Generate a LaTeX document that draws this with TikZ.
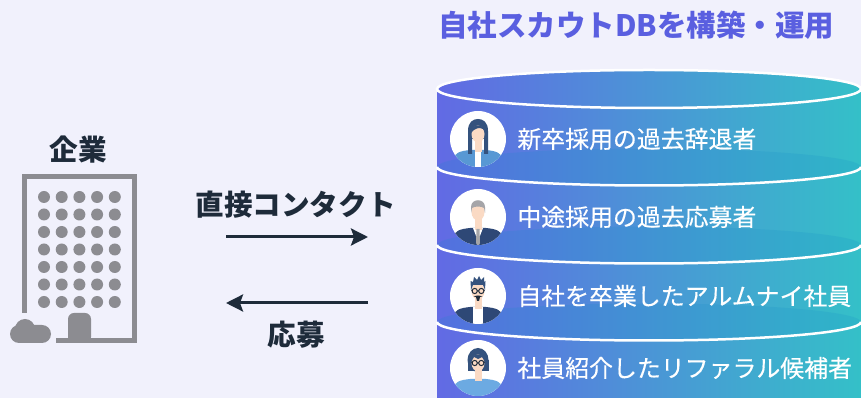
\documentclass[tikz,border=0pt]{standalone}
\usepackage{fontspec}
\setmainfont{Noto Sans CJK JP}
\newfontfamily\dbfont{Noto Sans CJK JP}[FakeBold=0.35]
\usetikzlibrary{positioning}
\usetikzlibrary{arrows.meta}

\definecolor{bgcol}{RGB}{241,241,252}
\definecolor{inkcol}{RGB}{30,43,58}
\definecolor{titlecol}{RGB}{90,95,224}
\definecolor{bldgcol}{RGB}{140,140,145}
\definecolor{dbleft}{RGB}{98,106,228}
\definecolor{dbmid}{RGB}{72,140,214}
\definecolor{dbright}{RGB}{52,192,200}
\definecolor{dbshade}{RGB}{20,140,200}
\definecolor{skin}{RGB}{250,218,196}
\definecolor{hairnavy}{RGB}{52,82,125}
\definecolor{hairgray}{RGB}{165,165,168}
\definecolor{suitnavy}{RGB}{46,72,118}
\definecolor{jacketblue}{RGB}{88,152,212}
\definecolor{sweaterblue}{RGB}{108,170,226}

% body, neck and face of a person, centred on the avatar
\newcommand*{\Torso}[1]{%
  \fill[#1] (-24,-30) -- (-24,-20) .. controls (-24,-14) and (-18,-12) .. (-8,-11)
    -- (8,-11) .. controls (18,-12) and (24,-14) .. (24,-20) -- (24,-30) -- cycle;}
\newcommand*{\Head}{%
  \fill[skin] (-3.5,-13) rectangle (3.5,0);
  \fill[skin] (0,5) ellipse [x radius=6.5, y radius=8.5];}
\newcommand*{\Glasses}{%
  \draw[inkcol, line width=1] (-3.3,5) circle (2.6) (3.3,5) circle (2.6)
    (-0.7,5) -- (0.7,5) (-5.9,5.5) -- (-6.6,6) (5.9,5.5) -- (6.6,6);}

\begin{document}
\begin{tikzpicture}[x=1pt, y=1pt,
    label/.style={text=inkcol, font=\bfseries\fontsize{28.6}{32}\selectfont, inner sep=0},
    dbtext/.style={text=white, font=\dbfont\fontsize{23.9}{28}\selectfont, inner sep=0, anchor=west},
    avatar/.style={circle, fill=white, minimum size=56pt, inner sep=0},
    flow/.style={draw=inkcol, line width=3, -{Stealth[length=17pt, width=17pt, inset=3pt]}},
    sep/.style={white, line width=2.5}]

\useasboundingbox (0,0) rectangle (861,398);
\clip (0,0) rectangle (861,398);
\fill[bgcol] (0,0) rectangle (861,398);

% Building
\node[label] (company) at (78,248) {企業};
\draw[bldgcol, line width=5] (56,57.5) -- (134.5,57.5) -- (134.5,221.5) -- (24.5,221.5) -- (24.5,85);
\foreach \row in {0,...,6}
  \foreach \col in {0,...,4}
    \fill[bldgcol] (44+17.7*\col, 201-17.5*\row) circle (6);
% door and shrub
\fill[bldgcol, rounded corners=6] (68,55) -- (68,85) -- (91,85) -- (91,55) -- cycle;
\fill[bldgcol, rounded corners=9] (10,55) rectangle (51,73);
\fill[bldgcol] (25,69) circle (10);

% Arrows with text label
\node[label] (contact) at (295.5,193) {直接コンタクト};
\node[label] (apply) at (296.5,63) {応募};
\coordinate (sendfrom) at (226,161);
\coordinate (sendto) at (368,161);
\coordinate (replyfrom) at (368,95);
\coordinate (replyto) at (226,95);
\draw[flow] (sendfrom) -- (sendto);
\draw[flow] (replyfrom) -- (replyto);

% Database cylinder
\node[text=titlecol, font=\bfseries\fontsize{29.5}{34}\selectfont, inner sep=0] (title) at (636,373)
  {自社スカウトDBを構築・運用};
\shade[left color=dbleft, middle color=dbmid, right color=dbright]
  (437,-5) rectangle (861,309);
\foreach \y in {231,153,76} {
  \fill[dbshade, opacity=0.18] (649,\y) ellipse [x radius=212, y radius=18.5];
  \draw[sep] (437,\y) arc [start angle=180, end angle=360, x radius=212, y radius=18.5];
}
\shade[left color=dbleft, middle color=dbmid, right color=dbright]
  (649,309) ellipse [x radius=212, y radius=19];
\draw[sep] (649,309) ellipse [x radius=212, y radius=19];

% Avatars
\node[avatar] (newgrad) at (478,259) {};
\node[avatar] (midcareer) at (478,181) {};
\node[avatar] (alumni) at (478,102) {};
\node[avatar] (referral) at (478,30) {};

\begin{scope}[shift={(newgrad.center)}]
  \clip (0,0) circle (28);
  \Torso{jacketblue}
  \fill[white] (-3,-11) rectangle (3,-30);
  \fill[hairnavy] (-10,-15) -- (-10,8) .. controls (-10,17) and (-5,20) .. (0,20)
    .. controls (5,20) and (10,17) .. (10,8) -- (10,-15) -- (6,-15) -- (6,0) -- (-6,0) -- (-6,-15) -- cycle;
  \Head
  \fill[hairnavy] (-7,6) .. controls (-7,16) and (7,16) .. (7,6) -- (5,10) .. controls (1,12) and (-3,11) .. (-7,6) -- cycle;
\end{scope}

\begin{scope}[shift={(midcareer.center)}]
  \clip (0,0) circle (28);
  \Torso{suitnavy}
  \fill[white] (-5,-11) -- (5,-11) -- (0,-24) -- cycle;
  \Head
  \fill[hairgray] (-1.5,-12) -- (1.5,-12) -- (2,-26) -- (0,-30) -- (-2,-26) -- cycle;
  \fill[hairgray] (-7,4) -- (-7,10) .. controls (-7,19) and (7,19) .. (7,10) -- (7,4)
    -- (6,9) .. controls (3,11) and (-3,11) .. (-6,9) -- cycle;
\end{scope}

\begin{scope}[shift={(alumni.center)}]
  \clip (0,0) circle (28);
  \Torso{suitnavy}
  \fill[white] (-5,-11) rectangle (5,-30);
  \Head
  \fill[hairnavy] (-7,6) -- (-7.5,15) -- (-5,14) -- (-4,19) -- (-1,16) -- (1,20) -- (3,16)
    -- (6,19) -- (6,14) -- (7.5,15) -- (7,6) -- (5,11) -- (-5,11) -- cycle;
  \Glasses
  \fill[inkcol] (-4.5,-1) .. controls (-2,1) and (2,1) .. (4.5,-1) -- (2,-1) -- (1,-5) -- (-1,-5) -- (-2,-1) -- cycle;
\end{scope}

\begin{scope}[shift={(referral.center)}]
  \clip (0,0) circle (28);
  \Torso{sweaterblue}
  \fill[hairnavy] (0,8) ellipse [x radius=10.5, y radius=12];
  \fill[hairnavy] (-10.5,8) rectangle (10.5,-3);
  \Head
  \fill[hairnavy] (-7,6) .. controls (-7,16) and (7,16) .. (7,6) -- (4,11) -- (0,9) -- (-4,11) -- cycle;
  \Glasses
\end{scope}

% Candidate groups
\node[dbtext, right=11pt of newgrad] (newgradtext) {新卒採用の過去辞退者};
\node[dbtext, right=11pt of midcareer] (midcareertext) {中途採用の過去応募者};
\node[dbtext, right=11pt of alumni] (alumnitext) {自社を卒業したアルムナイ社員};
\node[dbtext, right=11pt of referral] (referraltext) {社員紹介したリファラル候補者};

\end{tikzpicture}
\end{document}
